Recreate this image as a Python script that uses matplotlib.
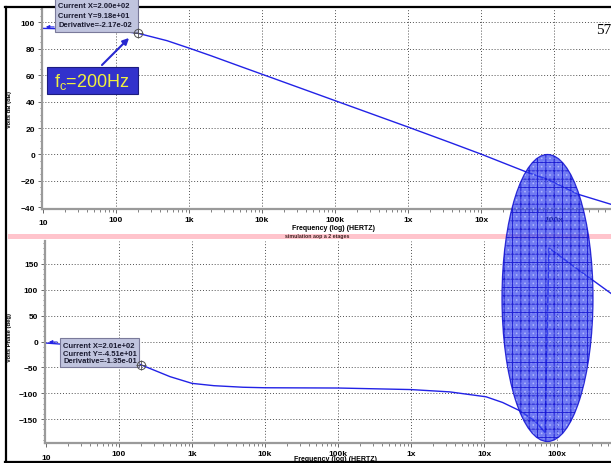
import numpy as np
import matplotlib
matplotlib.use("Agg")
import matplotlib.pyplot as plt
from matplotlib.patches import Rectangle, Ellipse, FancyArrowPatch
from matplotlib.lines import Line2D
from matplotlib.ticker import LogLocator, MultipleLocator, NullFormatter
from matplotlib.transforms import Affine2D

plt.rcParams['font.family'] = ['Liberation Sans', 'DejaVu Sans']
plt.rcParams['mathtext.fontset'] = 'custom'
plt.rcParams['mathtext.rm'] = 'Liberation Sans'
plt.rcParams['mathtext.it'] = 'Liberation Sans'
plt.rcParams['hatch.linewidth'] = 0.7

# values
mag_freq = [10, 20, 50, 100, 200, 500, 1e3, 2e3, 5e3, 1e4, 1e5, 1e6,
            3.8e6, 1e7, 4.2e7, 8.3e7, 2.1e8, 6.0e8]
mag_db = [95.5, 95.2, 94.6, 93.8, 91.8, 86.2, 80.6, 74.8, 66.8, 60.8, 40.8, 20.8,
          9.0, 0.3, -13.3, -19.0, -30.0, -37.7]

ph_freq = [10, 20, 50, 100, 200, 500, 1e3, 2e3, 5e3, 1e4, 1e5, 1e6,
           3.4e6, 1.07e7, 1.8e7, 3.1e7, 5.0e7, 6.86e7, 7.76e7, 2.0e8, 5.5e8]
ph_deg = [-3, -6, -14, -26.6, -45.1, -68, -81, -85.5, -88.5, -89.5, -90, -93,
          -97.5, -107, -118, -134, -154, -176, 181, 138, 93]

dec_ticks = [10, 100, 1e3, 1e4, 1e5, 1e6, 1e7, 1e8]
dec_labels = ['10', '100', '1k', '10k', '100k', '1x', '10x', '100x']

cursor1 = ['Current X=2.00e+02', 'Current Y=9.18e+01', 'Derivative=-2.17e-02']
cursor2 = ['Current X=2.01e+02', 'Current Y=-4.51e+01', 'Derivative=-1.35e-01']

W, H = 611, 464
blue = '#2222e6'

fig = plt.figure(figsize=(W / 100, H / 100), dpi=100)
# pixel coords measured from the top-left corner
T = Affine2D().scale(1.0 / W, -1.0 / H).translate(0, 1) + fig.transFigure


def box(l, t, r, b):
    return [l / W, 1 - b / H, (r - l) / W, (b - t) / H]


ax1 = fig.add_axes(box(42, 10, 611, 210))
ax2 = fig.add_axes(box(45, 242, 611, 444))


def style(ax, yticks, yminor):
    ax.set_xscale('log')
    ax.set_xticks(dec_ticks)
    ax.set_xticklabels([''] + dec_labels[1:])
    ax.xaxis.set_minor_locator(LogLocator(base=10, subs=np.arange(2, 10)))
    ax.xaxis.set_minor_formatter(NullFormatter())
    ax.set_yticks(yticks)
    ax.yaxis.set_minor_locator(MultipleLocator(yminor))
    for s in ['top', 'right']:
        ax.spines[s].set_visible(False)
    for s in ['left', 'bottom']:
        ax.spines[s].set_color('#9a9a9a')
        ax.spines[s].set_linewidth(1.6)
    ax.tick_params(which='major', length=3, width=0.6, color='#505050',
                   labelsize=6, pad=2)
    ax.tick_params(which='minor', length=1.8, width=0.5, color='#505050')
    for lab in ax.get_xticklabels() + ax.get_yticklabels():
        lab.set_fontweight('bold')
    ax.grid(True, which='major', color='#505050', lw=0.7, linestyle=(0, (1, 2)))
    ax.xaxis.get_major_ticks()[0].gridline.set_visible(False)
    ax.text(10, -0.07, '10', transform=ax.get_xaxis_transform(), ha='center',
            va='center', fontsize=6, fontweight='bold')


ax1.plot(mag_freq, mag_db, color=blue, lw=1.0)
ax1.set_xlim(10 ** (1 - 1 / 73), 10 ** 8.781)
ax1.set_ylim(-41.3, 110.2)
style(ax1, np.arange(-40, 101, 20), 5)
ax1.yaxis.get_major_ticks()[0].gridline.set_visible(False)

ax2.plot(ph_freq, ph_deg, color=blue, lw=1.0)
ax2.set_xlim(10 ** (1 - 1 / 73), 10 ** 8.74)
ax2.set_ylim(-196.4, 194.5)
style(ax2, np.arange(-150, 151, 50), 10)

# cursor start arrows
ax1.annotate('', xy=(10, 96.6), xytext=(15.5, 96.6),
             arrowprops=dict(arrowstyle='-|>', color=blue, lw=0.8, mutation_scale=5))
ax2.annotate('', xy=(10, -1), xytext=(15.5, -1),
             arrowprops=dict(arrowstyle='-|>', color=blue, lw=0.8, mutation_scale=5))

# axis titles
fig.text(334 / W, 1 - 228 / H, 'Frequency (log) (HERTZ)', fontsize=5, fontweight='bold',
         ha='center', va='center')
fig.text(336 / W, 1 - 460 / H, 'Frequency (log) (HERTZ)', fontsize=5, fontweight='bold',
         ha='center', va='center')
fig.text(10 / W, 1 - 109 / H, 'Volts dB (dB)', fontsize=4.2, fontweight='bold',
         rotation=90, ha='center', va='center')
fig.text(10 / W, 1 - 338 / H, 'Volts Phase (deg)', fontsize=4.2, fontweight='bold',
         rotation=90, ha='center', va='center')

# pink separator
fig.add_artist(Rectangle((8, 234.5), 603, 5, transform=T, facecolor='#ffc4cc',
                         edgecolor='none', zorder=2))
fig.text(317 / W, 1 - 237 / H, 'simulation aop a 2 etages', fontsize=3.8,
         fontweight='bold', ha='center', va='center', color='#402020', zorder=3)

# slide frame
for xs, ys in [([5, 611], [8, 8]), ([6, 6], [8, 462]), ([5, 611], [462.5, 462.5])]:
    fig.add_artist(Line2D(xs, ys, transform=T, color='black', lw=1.6, zorder=2.5))

fig.text(604 / W, 1 - 30 / H, '57', fontsize=11, family='Liberation Serif',
         ha='center', va='center')

# cursor boxes
for (l, t, r, b), lines, ys in [((55, -2, 138, 33), cursor1, [7, 16.5, 25.5]),
                                 ((60, 339, 139, 368), cursor2, [346, 354, 361.5])]:
    fig.add_artist(Rectangle((l, t), r - l, b - t, transform=T, facecolor='#c0c4de',
                             edgecolor='#7a7a9a', lw=0.8, zorder=3))
    for s, y in zip(lines, ys):
        fig.text((l + 3.5) / W, 1 - y / H, s, fontsize=5.5, fontweight='bold',
                 color='#1a1a30', ha='left', va='center', zorder=4)

for ax, (cx, cy) in [(ax1, (200, 91.8)), (ax2, (201, -45.1))]:
    fig.add_artist(Line2D([cx], [cy], transform=ax.transData, marker='o', ms=6,
                          mfc='none', mec='#505050', mew=0.7, zorder=5))
    fig.add_artist(Line2D([cx], [cy], transform=ax.transData, marker='+', ms=7,
                          mec='#505050', mew=0.6, zorder=5))

# fc annotation
fig.add_artist(Rectangle((47, 68), 91, 27, transform=T, facecolor='#3232cc',
                         edgecolor='#1c1c80', lw=0.8, zorder=3))
fig.text(92 / W, 1 - 81.5 / H, r'f$_\mathrm{c}$=200Hz', fontsize=13, color='#f0f040',
         ha='center', va='center', zorder=4)
fig.add_artist(FancyArrowPatch((100, 68), (131, 37), transform=T, arrowstyle='-|>',
                               color='#2828d0', lw=1.5, mutation_scale=9, zorder=4))

# highlighted region: checker texture + grid hatch, see-through like the slide's pattern fill
fig.add_artist(Ellipse((547.5, 299), 91, 287, transform=T, facecolor='#3342ee',
                       edgecolor='#c0c8ff', hatch='....', lw=0, alpha=0.7, zorder=6))
fig.add_artist(Ellipse((547.5, 299), 91, 287, transform=T, facecolor='none',
                       edgecolor='#1010d0', hatch='++', lw=0.9, alpha=0.85, zorder=7))

fig.savefig('out.png', dpi=100)
